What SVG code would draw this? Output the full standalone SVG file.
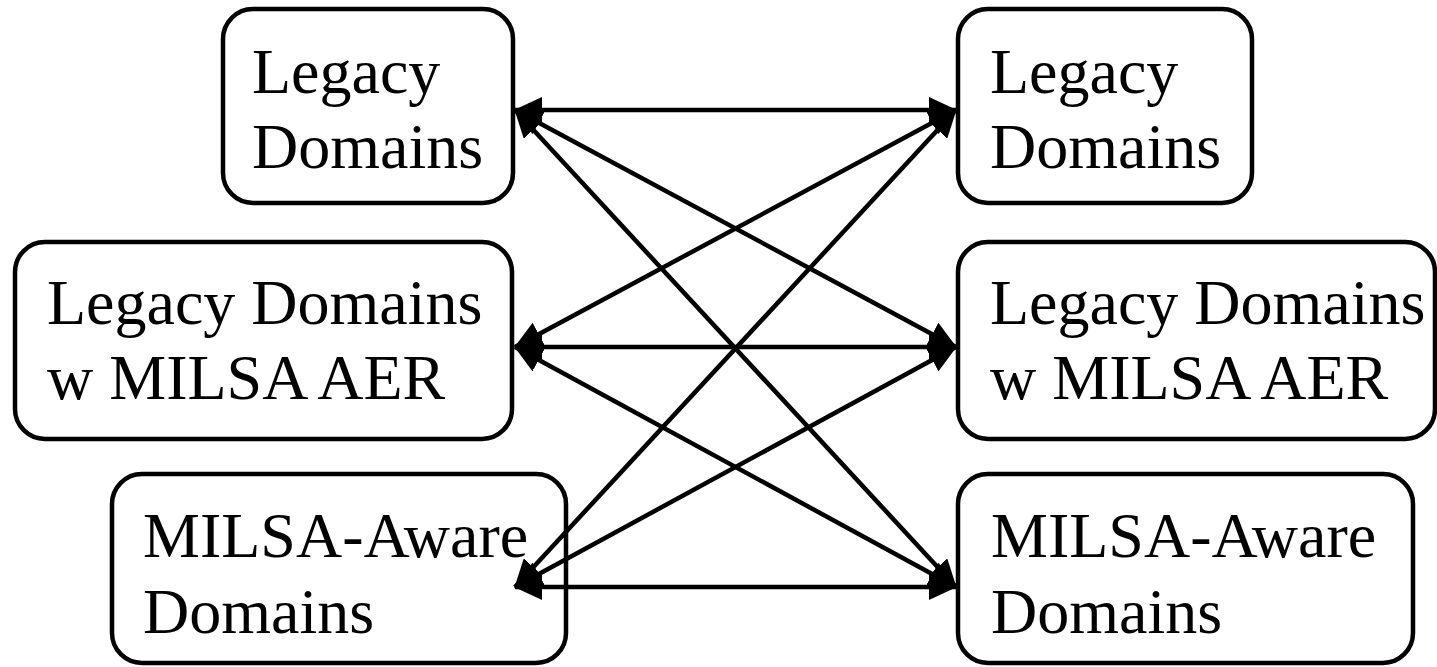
<svg xmlns="http://www.w3.org/2000/svg" width="1437" height="667" viewBox="0 0 1437 667">
<style>
.box{fill:#fff;stroke:#000;stroke-width:4.5}
.lbl{font-family:"Liberation Serif","Times New Roman",serif;font-size:64px;fill:#000}
.con{stroke:#000;stroke-width:4.5;fill:none;marker-start:url(#ah);marker-end:url(#ah)}
</style>
<defs>
<marker id="ah" viewBox="0 0 28 26" refX="27" refY="13" markerWidth="28" markerHeight="26" markerUnits="userSpaceOnUse" orient="auto-start-reverse">
<path d="M0,0 L28,13 L0,26 z" fill="#000"/>
</marker>
</defs>
<rect width="1437" height="667" fill="#fff"/>
<g id="n-legacy-left">
<rect class="box" x="223" y="9" width="290" height="194" rx="30"/>
<text class="lbl" x="252" y="93">Legacy</text>
<text class="lbl" x="252" y="168">Domains</text>
</g>
<g id="n-aer-left">
<rect class="box" x="15" y="242" width="497" height="197" rx="30"/>
<text class="lbl" x="47" y="324">Legacy Domains</text>
<text class="lbl" x="47" y="399">w MILSA AER</text>
</g>
<g id="n-aware-left">
<rect class="box" x="112" y="474" width="454" height="189" rx="30"/>
<text class="lbl" x="143" y="557">MILSA-Aware</text>
<text class="lbl" x="143" y="633">Domains</text>
</g>
<g id="n-legacy-right">
<rect class="box" x="958" y="9" width="294" height="194" rx="30"/>
<text class="lbl" x="990" y="93">Legacy</text>
<text class="lbl" x="990" y="168">Domains</text>
</g>
<g id="n-aer-right">
<rect class="box" x="958" y="242" width="477" height="197" rx="30"/>
<text class="lbl" x="990" y="324">Legacy Domains</text>
<text class="lbl" x="990" y="399">w MILSA AER</text>
</g>
<g id="n-aware-right">
<rect class="box" x="958" y="474" width="455" height="189" rx="30"/>
<text class="lbl" x="991" y="557">MILSA-Aware</text>
<text class="lbl" x="991" y="633">Domains</text>
</g>
<g id="connectors">
<line class="con" x1="515" y1="110" x2="956" y2="110"/>
<line class="con" x1="515" y1="110" x2="956" y2="347"/>
<line class="con" x1="515" y1="110" x2="956" y2="587"/>
<line class="con" x1="515" y1="347" x2="956" y2="110"/>
<line class="con" x1="515" y1="347" x2="956" y2="347"/>
<line class="con" x1="515" y1="347" x2="956" y2="587"/>
<line class="con" x1="515" y1="587" x2="956" y2="110"/>
<line class="con" x1="515" y1="587" x2="956" y2="347"/>
<line class="con" x1="515" y1="587" x2="956" y2="587"/>
</g>
</svg>
